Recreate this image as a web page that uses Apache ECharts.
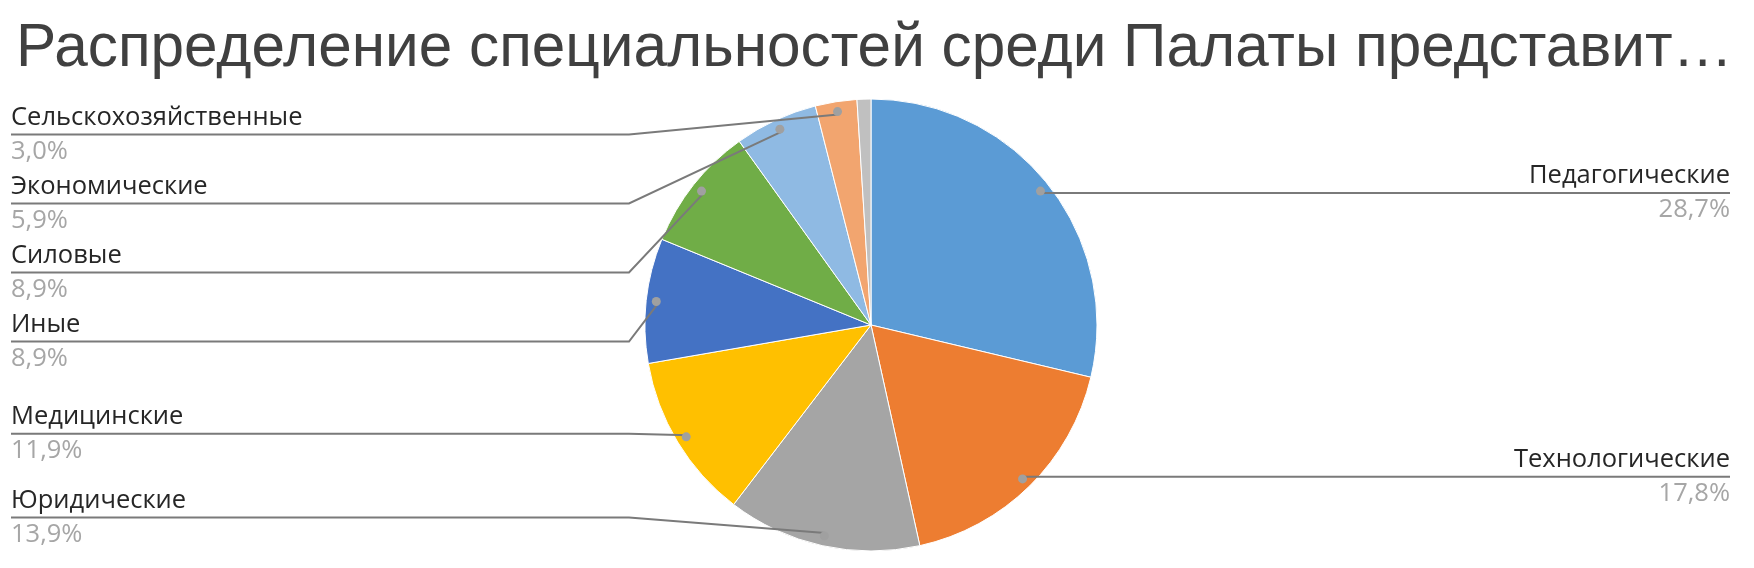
<!DOCTYPE html>
<html>
<head>
<meta charset="utf-8">
<script src="https://cdn.jsdelivr.net/npm/echarts@6/dist/echarts.min.js"></script>
<style>
html,body{margin:0;padding:0;background:#fff;}
#chart{width:1754px;height:568px;}
</style>
</head>
<body>
<div id="chart"></div>
<script>
// ---- data ----
const titleText = 'Распределение специальностей среди Палаты представит…';
const categories = ['Педагогические', 'Технологические', 'Юридические', 'Медицинские', 'Иные', 'Силовые', 'Экономические', 'Сельскохозяйственные', 'Прочие'];
const values = [29, 18, 14, 12, 9, 9, 6, 3, 1];
const colors = ['#5B9BD5', '#ED7D31', '#A5A5A5', '#FFC000', '#4472C4', '#70AD47', '#8FBAE3', '#F2A56F', '#C0C0C0'];
const labelled = [true, true, true, true, true, true, true, true, false];

// ---- layout constants ----
const CX = 871, CY = 325, R = 226, DOT_R = 213, ELBOW_GAP = 16;
const VIEW_TOP = 100, VIEW_H = 452, VIEW_W = 1741;

const chart = echarts.init(document.getElementById('chart'), null, {renderer: 'canvas'});

function pct(p) { return p.toFixed(1).replace('.', ',') + '%'; }

const pieData = categories.map((c, i) => ({
  name: c, value: values[i],
  itemStyle: {color: colors[i]}
}));
const labelData = categories.map((c, i) => ({
  name: c, value: values[i],
  label: {show: labelled[i]},
  labelLine: {show: labelled[i]}
}));
const dotData = categories.map((c, i) => ({
  name: c, value: values[i],
  label: {show: labelled[i]}
}));

const common = {
  type: 'pie',
  left: 0, top: VIEW_TOP, width: VIEW_W, height: VIEW_H,
  center: [CX, CY - VIEW_TOP],
  startAngle: 90,
  clockwise: true
};

chart.setOption({
  animation: false,
  title: {
    text: titleText,
    left: 11, top: 14,
    textStyle: {fontFamily: 'Liberation Sans', fontSize: 60.3, fontWeight: 'normal', color: '#404040'}
  },
  series: [
    Object.assign({}, common, {
      z: 1,
      radius: [0, R],
      itemStyle: {borderColor: '#ffffff', borderWidth: 1},
      label: {show: false},
      labelLine: {show: false},
      data: pieData
    }),
    Object.assign({}, common, {
      z: 2,
      silent: true,
      radius: [0, DOT_R],
      avoidLabelOverlap: true,
      itemStyle: {color: 'rgba(0,0,0,0)', borderWidth: 0},
      emphasis: {disabled: true},
      label: {
        position: 'outer',
        alignTo: 'edge',
        edgeDistance: 11,
        overflow: 'none',
        minMargin: 9,
        formatter: p => '{n|' + p.name + '}\n{p|' + pct(p.percent) + '}',
        rich: {
          n: {fontFamily: 'Open Sans', fontSize: 25.5, color: '#262626', lineHeight: 34},
          p: {fontFamily: 'Open Sans', fontSize: 25.5, color: '#A6A6A6', lineHeight: 34}
        }
      },
      labelLine: {
        show: true, length: 0, length2: 10,
        lineStyle: {color: '#7A7A7A', width: 2}
      },
      labelLayout: function (params) {
        const pts = params.labelLinePoints;
        if (!pts) return {};
        const lr = params.labelRect;
        const isLeft = lr.x + lr.width / 2 < CX;
        const y = lr.y + lr.height / 2;
        const elbowX = isLeft ? CX - R - ELBOW_GAP : CX + R + ELBOW_GAP;
        const endX = isLeft ? lr.x : lr.x + lr.width;
        return {labelLinePoints: [pts[0], [elbowX, y], [endX, y]]};
      },
      data: labelData
    }),
    Object.assign({}, common, {
      z: 3,
      silent: true,
      radius: [DOT_R - 1, DOT_R + 1],
      itemStyle: {color: 'rgba(0,0,0,0)', borderWidth: 0},
      label: {
        position: 'inside',
        formatter: '{d|}',
        rich: {d: {width: 9, height: 9, borderRadius: 4.5, backgroundColor: '#A0A0A0'}}
      },
      labelLine: {show: false},
      emphasis: {disabled: true},
      data: dotData
    })
  ]
});
</script>
</body>
</html>
